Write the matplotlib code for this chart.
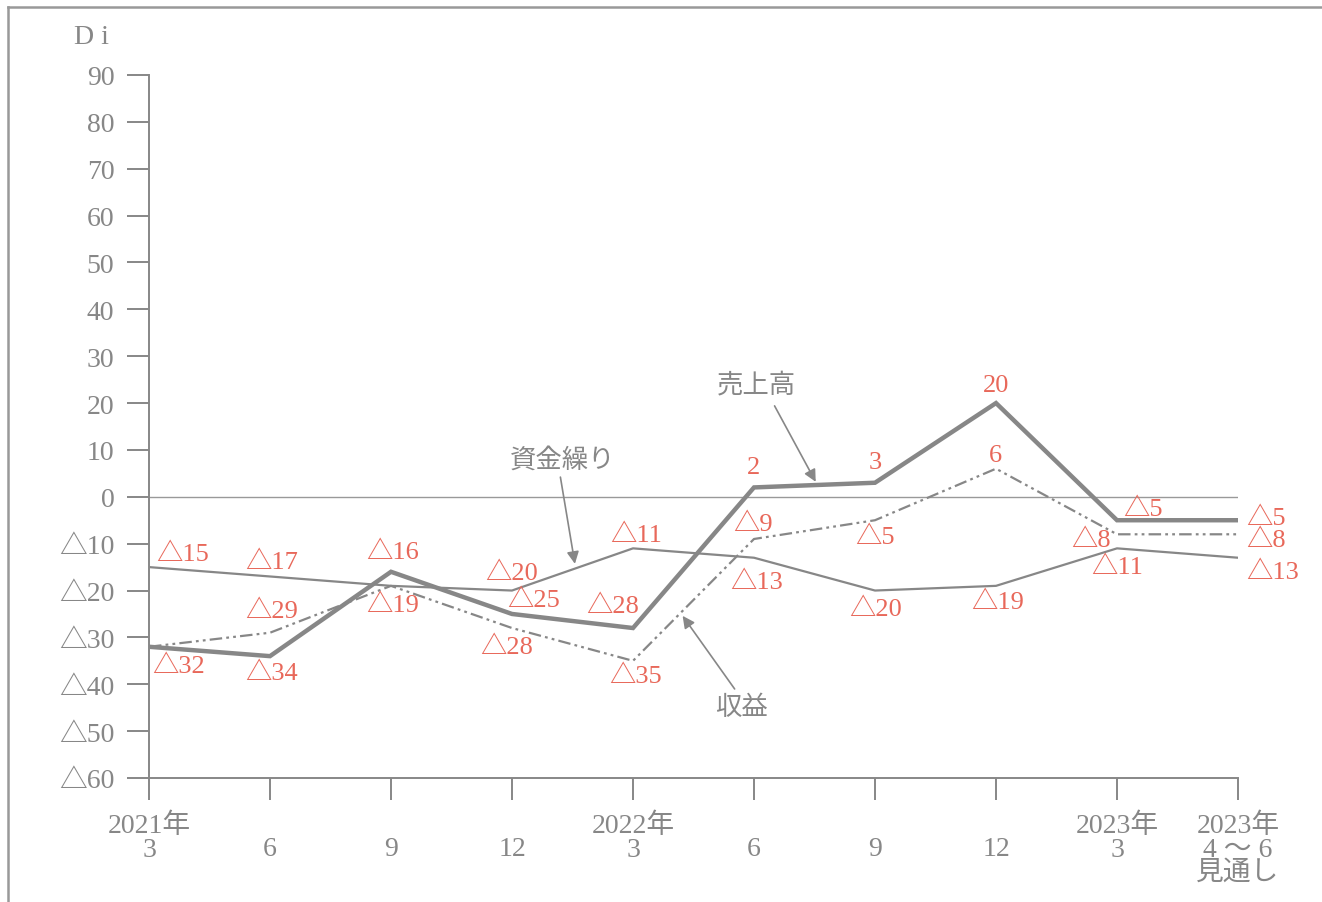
import matplotlib
matplotlib.use('Agg')
import matplotlib.pyplot as plt
from matplotlib.lines import Line2D

plt.rcParams['font.family'] = ['Liberation Serif', 'Noto Sans CJK JP', 'DejaVu Sans']
plt.rcParams['lines.scale_dashes'] = False

# ---- data ----
periods = ['2021年\n3', '\n6', '\n9', '\n12', '2022年\n3', '\n6', '\n9', '\n12',
           '2023年\n3', '2023年\n4 ～ 6\n見通し']
sales = [-32, -34, -16, -25, -28, 2, 3, 20, -5, -5]        # 売上高
profit = [-32, -29, -19, -28, -35, -9, -5, 6, -8, -8]      # 収益
cash = [-15, -17, -19, -20, -11, -13, -20, -19, -11, -13]  # 資金繰り
y_ticks = list(range(-60, 100, 10))

GRAY = '#878787'
RED = '#E8685A'


def fmt(v):
    return '△%d' % abs(v) if v < 0 else '%d' % v


# label offsets in pixels (dx, dy); None = no label
sales_off = [(30, -19), (2, -17), (2, 20), (22, 14), (-20, 22),
             (0, 20), (0, 21), (0, 18), (26, 11), (28, 2)]
profit_off = [None, (2, 22), (2, -19), (-5, -19), (3, -15),
              (-1, 15), (0, -17), (-1, 14), (-26, -6), (28, -6)]
cash_off = [(34, 13), (2, 14), None, (0, 18), (3, 13),
            (3, -24), (1, -18), (2, -16), (0, -19), (35, -14)]

fig = plt.figure(figsize=(13.22, 9.03), dpi=100)
ax = fig.add_axes([149 / 1322, 1 - 779 / 903, (1238 - 149) / 1322, (779 - 76) / 903])

x = list(range(len(periods)))
ax.axhline(0, color='#999999', lw=1.0, zorder=1)
ax.plot(x, cash, color=GRAY, lw=1.6, zorder=2)
ax.plot(x, profit, color=GRAY, lw=1.6, dashes=(9, 3, 2, 3, 2, 3), zorder=2)
ax.plot(x, sales, color=GRAY, lw=3.2, zorder=3, solid_joinstyle='miter')

for vals, offs in ((sales, sales_off), (profit, profit_off), (cash, cash_off)):
    for i, (v, o) in enumerate(zip(vals, offs)):
        if o is None:
            continue
        ax.annotate(fmt(v), (i, v), xytext=(o[0] * 0.72, o[1] * 0.72),
                    textcoords='offset points', ha='center', va='center',
                    fontsize=19, color=RED)

# series name callouts
arrow = dict(arrowstyle='-|>', color=GRAY, lw=1.2, mutation_scale=18,
             shrinkA=0, shrinkB=0)
ax.text(5.02, 24.1, '売上高', ha='center', va='center', fontsize=19, color=GRAY)
ax.annotate('', xy=(5.51, 3.2), xytext=(5.17, 19.4), arrowprops=arrow)
ax.text(3.42, 8.1, '資金繰り', ha='center', va='center', fontsize=19, color=GRAY)
ax.annotate('', xy=(3.52, -14.3), xytext=(3.40, 4.2), arrowprops=arrow)
ax.text(4.90, -44.8, '収益', ha='center', va='center', fontsize=19, color=GRAY)
ax.annotate('', xy=(4.41, -25.4), xytext=(4.84, -41.0), arrowprops=arrow)

ax.set_xlim(0, len(periods) - 1)
ax.set_ylim(-60, 90)
ax.set_xticks(x)
ax.set_xticklabels(periods, linespacing=0.92)
ax.set_yticks(y_ticks)
ax.set_yticklabels([fmt(v) for v in y_ticks])
for s in ('top', 'right'):
    ax.spines[s].set_visible(False)
for s in ('left', 'bottom'):
    ax.spines[s].set_color(GRAY)
    ax.spines[s].set_linewidth(1.4)
ax.tick_params(axis='both', colors=GRAY, labelcolor=GRAY, labelsize=20,
               length=16, width=1.4)
ax.tick_params(axis='x', pad=9)
ax.tick_params(axis='y', pad=9)

fig.text(92 / 1322, 1 - 38 / 903, 'D i', ha='center', va='center',
         fontsize=20, color=GRAY)

# outer frame (left and top edges)
fig.add_artist(Line2D([8 / 1322, 8 / 1322], [0, 1 - 8 / 903], color='#999999',
                      lw=1.8, transform=fig.transFigure))
fig.add_artist(Line2D([8 / 1322, 1], [1 - 8 / 903, 1 - 8 / 903], color='#999999',
                      lw=1.8, transform=fig.transFigure))

fig.savefig('out.png', dpi=100)
